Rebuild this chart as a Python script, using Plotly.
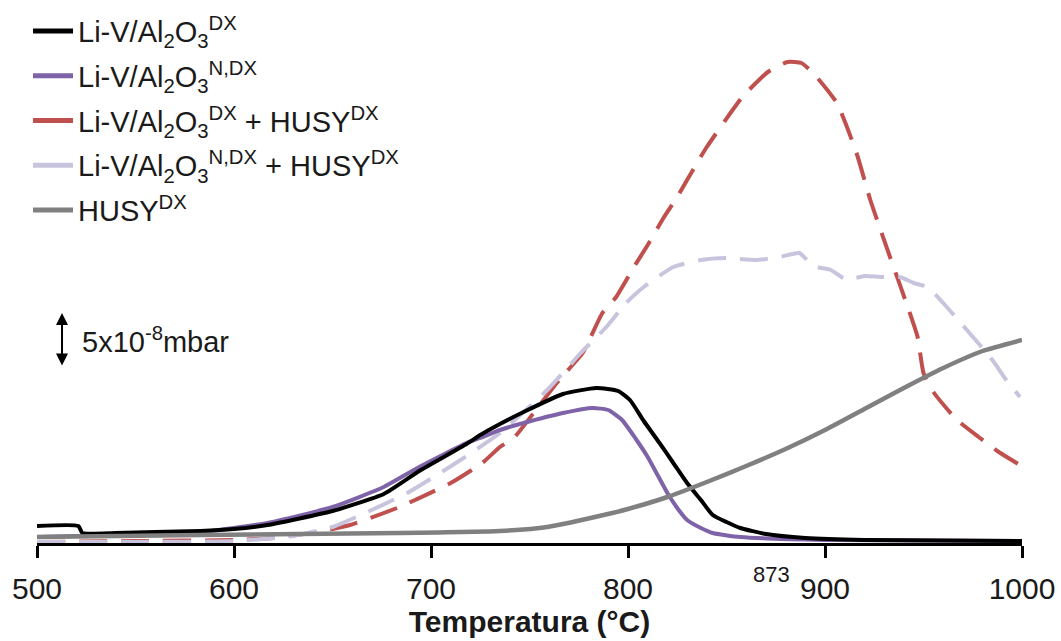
import plotly.graph_objects as go

# ---- data (temperature in °C, signal in arbitrary units) ----
black_T = [500, 521, 523, 540, 560, 583, 600, 617, 650, 676, 694, 718, 725, 735, 747, 767, 784, 795, 801, 808, 816, 823, 830, 837, 843, 850, 857, 870, 890, 920, 1000]
black_y = [17, 17, 10, 10, 11, 12, 14, 18, 32, 49, 72, 99, 108, 119, 131, 149, 155, 152, 143, 122, 100, 80, 60, 43, 28, 21, 15, 9, 5, 3, 2]

purple_T = [500, 520, 560, 583, 617, 650, 676, 694, 718, 725, 735, 747, 767, 782, 790, 797, 804, 810, 815, 820, 825, 830, 837, 843, 857, 900, 1000]
purple_y = [6, 7, 9, 11, 20, 36, 56, 76, 100, 105, 113, 120, 130, 135, 133, 123, 104, 86, 68, 50, 35, 23, 15, 10, 6, 3, 2]

red_T = [500, 550, 600, 620, 642, 659, 684, 710, 726, 735, 742, 754, 765, 777, 787, 794, 803, 810, 818, 825, 835, 840, 852, 858, 871, 881, 888, 894, 906, 916, 923, 933, 942, 947, 950, 955, 967, 978, 989, 999]
red_y = [1, 2, 3, 5, 11, 18, 36, 60, 80, 96, 105, 135, 163, 190, 230, 246, 276, 298, 325, 346, 380, 396, 430, 446, 471, 481, 480, 470, 440, 390, 343, 286, 236, 206, 170, 151, 123, 106, 90, 78]

lav_T = [500, 600, 630, 650, 662, 688, 715, 735, 747, 760, 776, 789, 799, 808, 823, 837, 850, 865, 877, 887, 894, 903, 911, 920, 928, 938, 945, 952, 960, 972, 985, 992, 999]
lav_y = [1, 2, 7, 16, 26, 50, 83, 110, 131, 155, 190, 216, 240, 256, 276, 283, 285, 283, 286, 290, 277, 273, 263, 267, 266, 266, 260, 256, 240, 213, 183, 163, 146]

gray_T = [500, 583, 684, 735, 759, 792, 800, 820, 840, 860, 880, 900, 920, 940, 960, 980, 1000]
gray_y = [6, 8, 10, 12, 16, 30, 34, 46, 61, 77, 94, 113, 134, 155, 175, 192, 203]

x_ticks = [500, 600, 700, 800, 900, 1000]

names = [
    "Li-V/Al<sub>2</sub>O<sub>3</sub><sup>DX</sup>",
    "Li-V/Al<sub>2</sub>O<sub>3</sub><sup>N,DX</sup>",
    "Li-V/Al<sub>2</sub>O<sub>3</sub><sup>DX</sup> + HUSY<sup>DX</sup>",
    "Li-V/Al<sub>2</sub>O<sub>3</sub><sup>N,DX</sup> + HUSY<sup>DX</sup>",
    "HUSY<sup>DX</sup>",
]
colors = ["#000000", "#7f63a8", "#c0504d", "#c9c4de", "#808080"]

fig = go.Figure()
series = [
    (red_T, red_y, 2, "28px,14px", 4),
    (lav_T, lav_y, 3, "28px,14px", 4),
    (purple_T, purple_y, 1, "solid", 4),
    (black_T, black_y, 0, "solid", 4),
    (gray_T, gray_y, 4, "solid", 4.5),
]
for T, y, idx, dash, w in series:
    fig.add_trace(go.Scatter(
        x=T, y=y, mode="lines", name=names[idx], showlegend=False,
        line=dict(color=colors[idx], width=w, dash=dash, shape="spline", smoothing=0.5),
    ))
# legend entries (solid samples as in the original)
for idx in range(5):
    fig.add_trace(go.Scatter(
        x=[None], y=[None], mode="lines", name=names[idx],
        line=dict(color=colors[idx], width=5),
        legendrank=idx + 1, legendgroup=str(idx),
    ))

FONT = "Liberation Sans, Arial, sans-serif"
TXT = "#1a1a1a"
fig.update_layout(
    width=1061, height=641,
    margin=dict(l=37, r=39, t=10, b=98, autoexpand=False),
    plot_bgcolor="white", paper_bgcolor="white",
    font=dict(family=FONT, color=TXT),
    showlegend=True,
    legend=dict(
        x=-0.0091, y=1.008, xanchor="left", yanchor="top",
        font=dict(size=29, family=FONT, color=TXT),
        itemwidth=40, tracegroupgap=4, traceorder="grouped",
        bgcolor="rgba(0,0,0,0)",
    ),
    xaxis=dict(
        range=[500, 1000], tickvals=x_ticks, ticks="outside", ticklen=12, tickwidth=3,
        tickcolor="black", showline=True, linewidth=3, linecolor="black",
        showgrid=False, zeroline=False, ticklabelstandoff=5, automargin=False,
        tickfont=dict(size=30, family=FONT, color=TXT),
        title=dict(text="<b>Temperatura (°C)</b>", font=dict(size=30, family=FONT, color=TXT), standoff=4),
    ),
    yaxis=dict(range=[0, 533], visible=False),
)

# scale bar
fig.add_annotation(
    xref="paper", yref="paper", x=0.0254, y=0.4315, ax=0, ay=54,
    text="", showarrow=True, arrowside="end+start", arrowhead=2, arrowsize=1.2,
    arrowwidth=2, arrowcolor="black",
)
fig.add_annotation(
    xref="paper", yref="paper", x=0.0437, y=0.381, xanchor="left", yanchor="middle",
    text="5x10<sup>-8</sup>mbar", showarrow=False,
    font=dict(size=29, family=FONT, color=TXT),
)
# 873 marker label
fig.add_annotation(
    x=873, xref="x", yref="paper", y=-0.060, yanchor="middle",
    text="873", showarrow=False,
    font=dict(size=22, family=FONT, color=TXT),
)

fig.write_html("out.html", post_script="document.body.style.margin='0';",
               config={"displayModeBar": False})
